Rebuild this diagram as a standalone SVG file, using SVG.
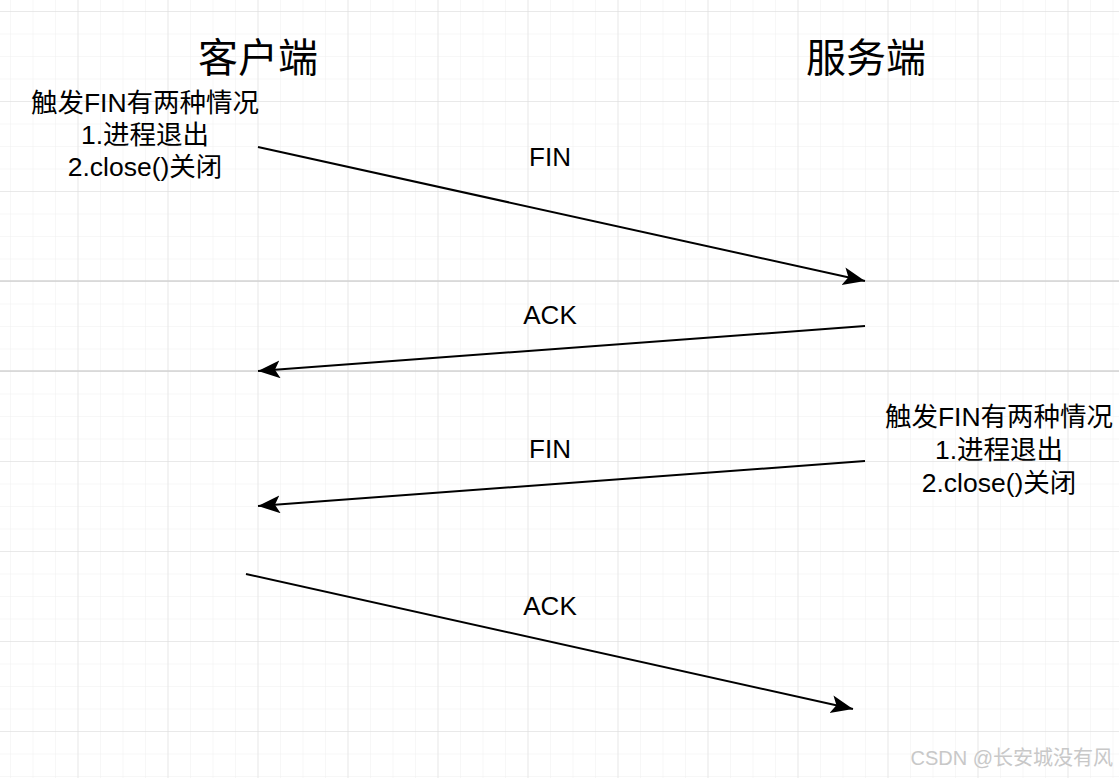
<svg xmlns="http://www.w3.org/2000/svg" width="1119" height="778" viewBox="0 0 1119 778">
  <defs>
    <pattern id="minor" x="10" y="11" width="22.5" height="22.5" patternUnits="userSpaceOnUse">
      <path d="M0,0 H22.5 M0,0 V22.5" fill="none" stroke="#f0f0f0" stroke-width="1"/>
    </pattern>
    <pattern id="major" x="-12.5" y="11" width="90" height="90" patternUnits="userSpaceOnUse">
      <path d="M0,0 H90 M0,0 V90" fill="none" stroke="#dcdcdc" stroke-width="1"/>
    </pattern>
    <marker id="arrow" markerUnits="userSpaceOnUse" markerWidth="24" markerHeight="20" viewBox="0 0 24 20" refX="22" refY="9" orient="auto">
      <path d="M0,0 L22,9 L0,18 L5,9 Z" fill="#000"/>
    </marker>
    <style>
      .t { font-family: "Liberation Sans", "Noto Sans CJK SC", sans-serif; fill: #000; text-anchor: middle; }
      .title { font-size: 40px; }
      .note { font-size: 26.5px; }
      .lbl { font-size: 26px; }
      .edge { stroke: #000; stroke-width: 2; fill: none; marker-end: url(#arrow); }
      .wm { font-family: "Liberation Sans", "Noto Sans CJK SC", sans-serif; font-size: 20px; fill: #c8c8c8; text-anchor: end; }
    </style>
  </defs>
  <rect width="1119" height="778" fill="#fff"/>
  <rect width="1119" height="778" fill="url(#minor)"/>
  <rect width="1119" height="778" fill="url(#major)"/>
  <path d="M0,281 H1119 M0,371 H1119" stroke="#d4d4d4" stroke-width="1.6"/>

  <g id="client">
    <text class="t title" x="258" y="72">客户端</text>
  </g>
  <g id="server">
    <text class="t title" x="866" y="72">服务端</text>
  </g>
  <g id="client-note">
    <text class="t note" x="145" y="112">触发FIN有两种情况</text>
    <text class="t note" x="145" y="144">1.进程退出</text>
    <text class="t note" x="145" y="176">2.close()关闭</text>
  </g>
  <g id="server-note">
    <text class="t note" x="999" y="426">触发FIN有两种情况</text>
    <text class="t note" x="999" y="459">1.进程退出</text>
    <text class="t note" x="999" y="492">2.close()关闭</text>
  </g>

  <g id="connectors">
    <line class="edge" x1="258" y1="147" x2="865" y2="281"/>
    <line class="edge" x1="865" y1="326" x2="258" y2="371"/>
    <line class="edge" x1="865" y1="461" x2="258" y2="506"/>
    <line class="edge" x1="246" y1="574" x2="853" y2="709"/>
    <text class="t lbl" x="550" y="166">FIN</text>
    <text class="t lbl" x="550" y="324">ACK</text>
    <text class="t lbl" x="550" y="458">FIN</text>
    <text class="t lbl" x="550" y="615">ACK</text>
  </g>

  <text class="wm" x="1113" y="765">CSDN @长安城没有风</text>
</svg>
